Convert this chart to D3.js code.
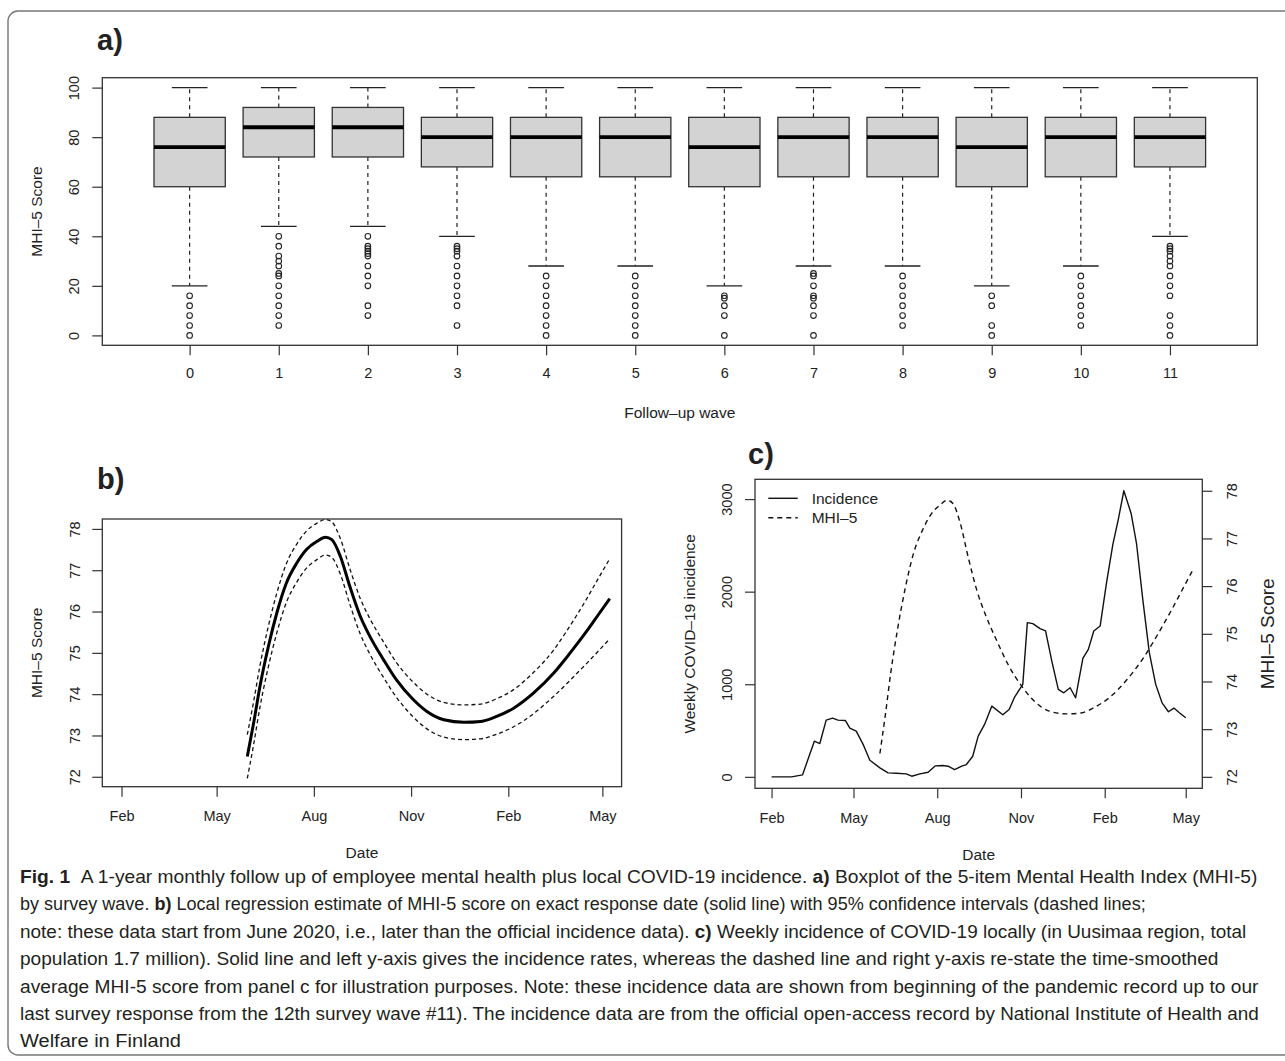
<!DOCTYPE html>
<html>
<head>
<meta charset="utf-8">
<script src="https://cdn.jsdelivr.net/npm/d3@7"></script>
<style>
  body { margin: 0; background: #fff; }
  svg { display: block; }
  text { font-family: "Liberation Sans", Arial, Helvetica, sans-serif; fill: #222; }
  .cap text { font-family: "Liberation Sans Narrow", "Liberation Sans", Arial, sans-serif; fill: #231f20; }
</style>
</head>
<body>
<div id="main"></div>
<script>
// ---- panel a: boxplot summary by wave ----
const waves = ["0", "1", "2", "3", "4", "5", "6", "7", "8", "9", "10", "11"];
const whiskLo = [20, 44, 44, 40, 28, 28, 20, 28, 28, 20, 28, 40];
const q1 = [60, 72, 72, 68, 64, 64, 60, 64, 64, 60, 64, 68];
const median = [76, 84, 84, 80, 80, 80, 76, 80, 80, 76, 80, 80];
const q3 = [88, 92, 92, 88, 88, 88, 88, 88, 88, 88, 88, 88];
const whiskHi = [100, 100, 100, 100, 100, 100, 100, 100, 100, 100, 100, 100];
const outliers = [
  [16, 12, 8, 4, 0],
  [40, 36, 32, 30, 28, 25, 24, 20, 16, 12, 8, 4],
  [40, 36, 35, 34, 33, 32, 28, 24, 20, 12, 8],
  [36, 35, 34, 32, 28, 24, 20, 16, 12, 4],
  [24, 20, 16, 12, 8, 4, 0],
  [24, 20, 16, 12, 8, 4, 0],
  [16, 15, 12, 8, 0],
  [25, 24, 20, 16, 15, 12, 8, 0],
  [24, 20, 16, 12, 8, 4],
  [16, 12, 4, 0],
  [24, 20, 16, 12, 8, 4],
  [36, 35, 34, 32, 30, 28, 24, 20, 16, 8, 4, 0]
];
const scoreTicks = [0, 20, 40, 60, 80, 100];

// ---- panel b/c: loess MHI-5 estimate ----
const mhiDates = ["2020-05-30", "2020-06-05", "2020-06-11", "2020-06-19", "2020-06-27", "2020-07-06",
  "2020-07-16", "2020-07-25", "2020-08-04", "2020-08-12", "2020-08-18", "2020-08-26", "2020-09-04",
  "2020-09-14", "2020-09-23", "2020-10-06", "2020-10-18", "2020-11-03", "2020-11-16", "2020-12-02",
  "2020-12-21", "2021-01-06", "2021-01-21", "2021-02-06", "2021-02-25", "2021-03-16", "2021-03-27",
  "2021-04-06", "2021-04-16", "2021-04-26", "2021-05-08"];
const mhiMean = [72.49, 73.30, 74.19, 75.16, 75.97, 76.69, 77.18, 77.50, 77.70, 77.80, 77.74, 77.34,
  76.61, 75.88, 75.40, 74.83, 74.35, 73.87, 73.58, 73.38, 73.32, 73.34, 73.46, 73.66, 74.03, 74.51,
  74.85, 75.18, 75.52, 75.88, 76.31];
const mhiUpper = [73.02, 73.82, 74.69, 75.65, 76.45, 77.16, 77.64, 77.95, 78.14, 78.23, 78.17, 77.77,
  77.04, 76.31, 75.83, 75.26, 74.77, 74.29, 74.00, 73.80, 73.74, 73.76, 73.89, 74.11, 74.53, 75.07,
  75.48, 75.88, 76.30, 76.75, 77.28];
const mhiLower = [71.96, 72.78, 73.69, 74.67, 75.49, 76.22, 76.72, 77.05, 77.26, 77.37, 77.31, 76.91,
  76.18, 75.45, 74.97, 74.40, 73.93, 73.45, 73.16, 72.96, 72.90, 72.92, 73.03, 73.21, 73.53, 73.95,
  74.22, 74.48, 74.74, 75.01, 75.34];
const mhiTicks = [72, 73, 74, 75, 76, 77, 78];

// ---- panel c: weekly incidence ----
const incDates = ["2020-02-01", "2020-02-23", "2020-03-06", "2020-03-19", "2020-03-25", "2020-04-01",
  "2020-04-08", "2020-04-14", "2020-04-22", "2020-04-27", "2020-05-04", "2020-05-12", "2020-05-19",
  "2020-05-30", "2020-06-08", "2020-06-17", "2020-06-28", "2020-07-04", "2020-07-13", "2020-07-22",
  "2020-07-30", "2020-08-07", "2020-08-13", "2020-08-20", "2020-08-28", "2020-09-02", "2020-09-09",
  "2020-09-15", "2020-09-22", "2020-09-30", "2020-10-12", "2020-10-19", "2020-10-25", "2020-11-03",
  "2020-11-08", "2020-11-14", "2020-11-22", "2020-11-28", "2020-12-05", "2020-12-12", "2020-12-18",
  "2020-12-25", "2020-12-31", "2021-01-08", "2021-01-14", "2021-01-20", "2021-01-27", "2021-02-03",
  "2021-02-10", "2021-02-16", "2021-02-22", "2021-03-02", "2021-03-08", "2021-03-15", "2021-03-22",
  "2021-03-29", "2021-04-05", "2021-04-12", "2021-04-18", "2021-04-24", "2021-05-01"];
const incValues = [0, 0, 21, 385, 360, 613, 634, 613, 609, 526, 494, 342, 180, 97, 43, 39, 32, 7, 32,
  50, 119, 122, 115, 79, 115, 133, 223, 440, 566, 764, 670, 728, 862, 999, 1666, 1655, 1601, 1576,
  1244, 944, 908, 962, 854, 1280, 1377, 1576, 1630, 2098, 2513, 2784, 3090, 2845, 2515, 1900, 1341,
  999, 800, 703, 743, 692, 638];
const incTicks = [0, 1000, 2000, 3000];

const monthTicks = ["2020-02-01", "2020-05-01", "2020-08-01", "2020-11-01", "2021-02-01", "2021-05-01"];
const monthFmt = d3.timeFormat("%b");
const intFmt = d3.format("d");

const parse = d3.timeParse("%Y-%m-%d");
const mhi = mhiDates.map((d, i) => ({ date: parse(d), mean: mhiMean[i], up: mhiUpper[i], lo: mhiLower[i] }));
const inc = incDates.map((d, i) => ({ date: parse(d), v: incValues[i] }));
const mTicks = monthTicks.map(parse);

const W = 1285, H = 1061;
const svg = d3.select("#main").append("svg").attr("width", W).attr("height", H);
svg.append("rect").attr("width", W).attr("height", H).attr("fill", "#fff");

// outer frame
svg.append("rect")
  .attr("x", 8).attr("y", 11).attr("width", 1300).attr("height", 1044)
  .attr("rx", 10).attr("fill", "none").attr("stroke", "#777").attr("stroke-width", 1.4);

const AX = "#333";

// R-like padded domain
const pad = (ext, f = 0.04) => {
  const r = ext[1] - ext[0];
  return [ext[0] - f * r, ext[1] + f * r];
};

function styleAxis(g) {
  g.attr("font-size", 14.5).attr("font-family", '"Liberation Sans", Arial, sans-serif');
  g.select(".domain").remove();
  g.selectAll(".tick line").attr("stroke", AX).attr("stroke-width", 1.2);
  g.selectAll(".tick text").attr("fill", "#222");
}

function leftAxis(g, scale, ticks, dist, side) {
  const ax = (side === "right" ? d3.axisRight(scale) : d3.axisLeft(scale))
    .tickValues(ticks).tickSize(10).tickFormat(intFmt);
  g.call(ax).call(styleAxis);
  g.selectAll(".tick text")
    .attr("x", null).attr("y", null).attr("dy", "0.35em")
    .attr("text-anchor", "middle")
    .attr("transform", `translate(${side === "right" ? dist : -dist},0) rotate(-90)`);
}

function bottomAxis(g, scale, ticks, dist, fmt) {
  const ax = d3.axisBottom(scale).tickValues(ticks).tickSize(10).tickFormat(fmt);
  g.call(ax).call(styleAxis);
  g.selectAll(".tick text").attr("y", dist).attr("dy", "0.35em");
}

function frame(x0, y0, x1, y1) {
  svg.append("rect")
    .attr("x", x0).attr("y", y0).attr("width", x1 - x0).attr("height", y1 - y0)
    .attr("fill", "none").attr("stroke", AX).attr("stroke-width", 1.3);
}

function title(txt, x, y, size, rot) {
  svg.append("text")
    .attr("transform", `translate(${x},${y})` + (rot ? " rotate(-90)" : ""))
    .attr("text-anchor", "middle").attr("dy", "0.35em")
    .attr("font-size", size).text(txt);
}

function panelTag(txt, x, y) {
  svg.append("text").attr("x", x).attr("y", y)
    .attr("font-size", 29).attr("font-weight", "bold").attr("fill", "#000").text(txt);
}

// ================= panel a =================
(function() {
  const L = 102.3, R = 1257.3, T = 77.7, B = 345.3;
  const x = d3.scaleLinear().domain([-0.98, waves.length - 1 + 0.98]).range([L, R]);
  const y = d3.scaleLinear().domain(pad([0, 100])).range([B, T]);
  const half = x(0.4) - x(0);
  const capHalf = x(0.2) - x(0);

  const g = svg.append("g");
  const boxes = g.selectAll("g.box").data(waves).join("g").attr("class", "box");

  boxes.append("line")
    .attr("x1", (d, i) => x(i)).attr("x2", (d, i) => x(i))
    .attr("y1", (d, i) => y(q3[i])).attr("y2", (d, i) => y(whiskHi[i]))
    .attr("stroke", "#222").attr("stroke-width", 1.2).attr("stroke-dasharray", "4,4");
  boxes.append("line")
    .attr("x1", (d, i) => x(i)).attr("x2", (d, i) => x(i))
    .attr("y1", (d, i) => y(q1[i])).attr("y2", (d, i) => y(whiskLo[i]))
    .attr("stroke", "#222").attr("stroke-width", 1.2).attr("stroke-dasharray", "4,4");
  [whiskHi, whiskLo].forEach(arr => {
    boxes.append("line")
      .attr("x1", (d, i) => x(i) - capHalf).attr("x2", (d, i) => x(i) + capHalf)
      .attr("y1", (d, i) => y(arr[i])).attr("y2", (d, i) => y(arr[i]))
      .attr("stroke", "#222").attr("stroke-width", 1.3);
  });
  boxes.append("rect")
    .attr("x", (d, i) => x(i) - half).attr("width", 2 * half)
    .attr("y", (d, i) => y(q3[i])).attr("height", (d, i) => y(q1[i]) - y(q3[i]))
    .attr("fill", "#d3d3d3").attr("stroke", "#333").attr("stroke-width", 1.3);
  boxes.append("line")
    .attr("x1", (d, i) => x(i) - half).attr("x2", (d, i) => x(i) + half)
    .attr("y1", (d, i) => y(median[i])).attr("y2", (d, i) => y(median[i]))
    .attr("stroke", "#000").attr("stroke-width", 3.8);
  boxes.selectAll("circle")
    .data((d, i) => outliers[i].map(v => ({ i, v })))
    .join("circle")
    .attr("cx", d => x(d.i)).attr("cy", d => y(d.v)).attr("r", 2.8)
    .attr("fill", "none").attr("stroke", "#222").attr("stroke-width", 1.1);

  frame(L, T, R, B);
  leftAxis(svg.append("g").attr("transform", `translate(${L},0)`), y, scoreTicks, 28);
  bottomAxis(svg.append("g").attr("transform", `translate(0,${B})`), x, d3.range(waves.length), 27.5, i => waves[i]);

  title("MHI–5 Score", 37, (T + B) / 2, 15.5, true);
  title("Follow–up wave", (L + R) / 2, 413, 15.5, false);
  panelTag("a)", 97, 50);
})();

// shared time domain (incidence record span, R-style 4% padding)
const timeDomain = pad(d3.extent(inc, d => d.date).map(Number)).map(t => new Date(t));
const mhiDomain = pad([72, 78]);

// ================= panel b =================
(function() {
  const L = 102.3, R = 621.6, T = 519, B = 786.7;
  const x = d3.scaleTime().domain(timeDomain).range([L, R]);
  const y = d3.scaleLinear().domain(mhiDomain).range([B, T]);
  const line = key => d3.line().x(d => x(d.date)).y(d => y(d[key])).curve(d3.curveMonotoneX);

  svg.append("path").datum(mhi).attr("d", line("up"))
    .attr("fill", "none").attr("stroke", "#111").attr("stroke-width", 1.3).attr("stroke-dasharray", "4,3");
  svg.append("path").datum(mhi).attr("d", line("lo"))
    .attr("fill", "none").attr("stroke", "#111").attr("stroke-width", 1.3).attr("stroke-dasharray", "4,3");
  svg.append("path").datum(mhi).attr("d", line("mean"))
    .attr("fill", "none").attr("stroke", "#000").attr("stroke-width", 3);

  frame(L, T, R, B);
  leftAxis(svg.append("g").attr("transform", `translate(${L},0)`), y, mhiTicks, 27.5);
  bottomAxis(svg.append("g").attr("transform", `translate(0,${B})`), x, mTicks, 29, monthFmt);

  title("MHI–5 Score", 37, (T + B) / 2, 15.5, true);
  title("Date", (L + R) / 2, 853, 15.5, false);
  panelTag("b)", 97, 489);
})();

// ================= panel c =================
(function() {
  const L = 755, R = 1202.3, T = 479.3, B = 788.3;
  const x = d3.scaleTime().domain(timeDomain).range([L, R]);
  const yL = d3.scaleLinear().domain(pad([0, d3.max(incValues)])).range([B, T]);
  const yR = d3.scaleLinear().domain(mhiDomain).range([B, T]);

  svg.append("path").datum(inc)
    .attr("d", d3.line().x(d => x(d.date)).y(d => yL(d.v)))
    .attr("fill", "none").attr("stroke", "#111").attr("stroke-width", 1.4).attr("stroke-linejoin", "round");
  svg.append("path").datum(mhi)
    .attr("d", d3.line().x(d => x(d.date)).y(d => yR(d.mean)).curve(d3.curveMonotoneX))
    .attr("fill", "none").attr("stroke", "#111").attr("stroke-width", 1.4).attr("stroke-dasharray", "5,4");

  frame(L, T, R, B);
  leftAxis(svg.append("g").attr("transform", `translate(${L},0)`), yL, incTicks, 28.5);
  leftAxis(svg.append("g").attr("transform", `translate(${R},0)`), yR, mhiTicks, 29.5, "right");
  bottomAxis(svg.append("g").attr("transform", `translate(0,${B})`), x, mTicks, 29.7, monthFmt);

  // legend
  const leg = svg.append("g");
  [["Incidence", null, 498.3], ["MHI–5", "5,4", 517.7]].forEach(([lab, dash, ly]) => {
    leg.append("line").attr("x1", 768.3).attr("x2", 797.7).attr("y1", ly).attr("y2", ly)
      .attr("stroke", "#111").attr("stroke-width", 1.4).attr("stroke-dasharray", dash);
    leg.append("text").attr("x", 811.7).attr("y", ly).attr("dy", "0.35em")
      .attr("font-size", 15.5).text(lab);
  });

  title("Weekly COVID–19 incidence", 690, (T + B) / 2, 15.5, true);
  title("MHI–5 Score", 1267, (T + B) / 2, 19, true);
  title("Date", (L + R) / 2, 855, 15.5, false);
  panelTag("c)", 748, 464);
})();

// ================= caption =================
const captionLines = [
  [["Fig. 1", true], ["\u00a0\u00a0A 1-year monthly follow up of employee mental health plus local COVID-19 incidence. ", false], ["a)", true], [" Boxplot of the 5-item Mental Health Index (MHI-5)", false]],
  [["by survey wave. ", false], ["b)", true], [" Local regression estimate of MHI-5 score on exact response date (solid line) with 95% confidence intervals (dashed lines;", false]],
  [["note: these data start from June 2020, i.e., later than the official incidence data). ", false], ["c)", true], [" Weekly incidence of COVID-19 locally (in Uusimaa region, total", false]],
  [["population 1.7 million). Solid line and left y-axis gives the incidence rates, whereas the dashed line and right y-axis re-state the time-smoothed", false]],
  [["average MHI-5 score from panel c for illustration purposes. Note: these incidence data are shown from beginning of the pandemic record up to our", false]],
  [["last survey response from the 12th survey wave #11). The incidence data are from the official open-access record by National Institute of Health and", false]],
  [["Welfare in Finland", false]]
];
const captionWidths = [1238, 1127, 1227, 1199, 1239, 1240, 161];

// each line is squeezed horizontally to the reference width (condensed caption face)
const cap = svg.append("g").attr("class", "cap");
captionLines.forEach((parts, i) => {
  const t = cap.append("text")
    .attr("x", 0).attr("y", 0)
    .attr("font-size", 18.5);
  parts.forEach(([s, b]) => {
    t.append("tspan").attr("font-weight", b ? "bold" : null).text(s);
  });
  const natural = t.node().getComputedTextLength();
  const sx = captionWidths[i] / natural;
  t.attr("transform", `translate(20,${883 + 27.4 * i}) scale(${sx},1)`);
});
</script>
</body>
</html>
